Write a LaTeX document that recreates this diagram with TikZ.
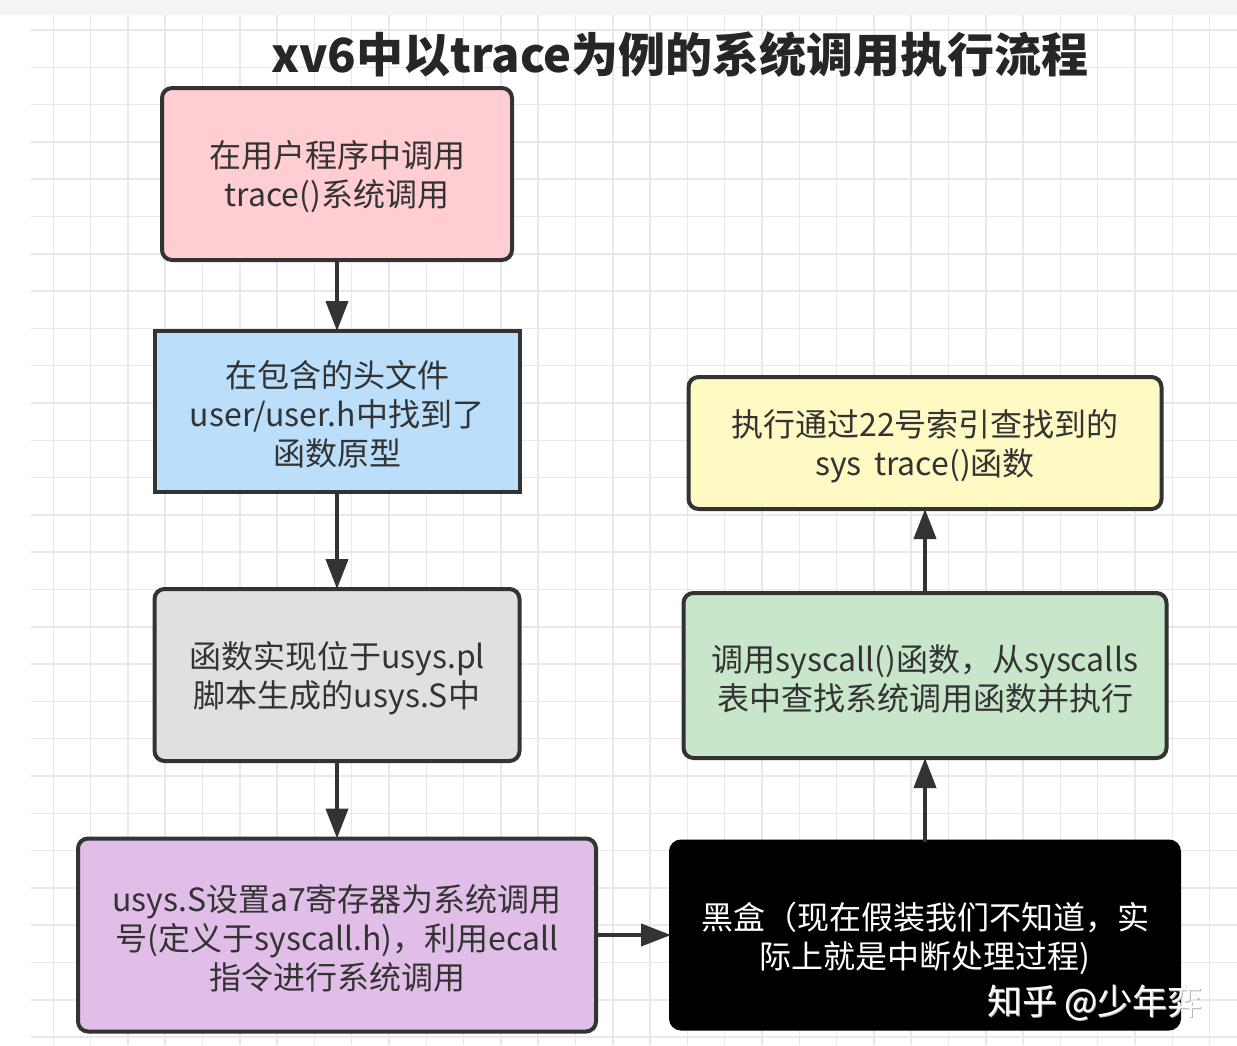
\documentclass[tikz,border=0pt]{standalone}
\usepackage{fontspec}
\setmainfont{Noto Sans CJK SC}
\usetikzlibrary{arrows.meta}
\definecolor{edge}{HTML}{333333}
\definecolor{txt}{HTML}{333333}
\definecolor{gridc}{HTML}{E8E8E8}
\definecolor{bandc}{HTML}{F4F4F4}
\definecolor{pinkf}{HTML}{FFCDD2}
\definecolor{bluef}{HTML}{BBDEFB}
\definecolor{grayf}{HTML}{E0E0E0}
\definecolor{purplef}{HTML}{E1BEE7}
\definecolor{greenf}{HTML}{C8E6C9}
\definecolor{yellowf}{HTML}{FFF9C4}
\begin{document}
\begin{tikzpicture}[x=1pt,y=-1pt,
  box/.style={draw=edge, line width=4pt, rounded corners=10pt, inner sep=0pt, outer sep=0pt},
  sharpbox/.style={box, sharp corners},
  boxtext/.style={align=center, text=txt, inner sep=0pt, yshift=-3pt, font=\fontsize{32}{39}\selectfont},
  flow/.style={draw=edge, line width=4pt, -{Triangle[length=30pt,width=22pt]}},
  gridline/.style={draw=gridc, line width=1.5pt}]
\useasboundingbox (0,0) rectangle (1237,1045);
\fill[white] (0,0) rectangle (1237,1045);
\fill[bandc] (0,0) rectangle (1237,15);
% grid
\foreach \i in {0,...,31} {
  \draw[gridline] ({53.3+\i*37.3},15) -- ({53.3+\i*37.3},1045);
}
\foreach \j in {0,...,27} {
  \draw[gridline] (31,{30+\j*37.3}) -- (1237,{30+\j*37.3});
}
% title
\node[font=\fontsize{47}{52}\selectfont\bfseries, text=black!85] (title) at (680,55) {xv6中以trace为例的系统调用执行流程};
% boxes
\node[box, fill=pinkf, minimum width=350pt, minimum height=172pt] (pink) at (337,174) {};
\node[boxtext] (pinkt) at (pink.center) {在用户程序中调用\\trace()系统调用};
\node[sharpbox, fill=bluef, minimum width=365pt, minimum height=161pt] (blue) at (337,411.5) {};
\node[boxtext] (bluet) at (blue.center) {在包含的头文件\\user/user.h中找到了\\函数原型};
\node[box, fill=grayf, minimum width=365pt, minimum height=172pt] (gray) at (337,675) {};
\node[boxtext] (grayt) at (gray.center) {函数实现位于usys.pl\\脚本生成的usys.S中};
\node[box, fill=purplef, minimum width=518pt, minimum height=193pt] (purple) at (337,935) {};
\node[boxtext] (purplet) at (purple.center) {usys.S设置a7寄存器为系统调用\\号(定义于syscall.h)，利用ecall\\指令进行系统调用};
\node[box, draw=black, fill=black, minimum width=508pt, minimum height=187pt] (black) at (925,935) {};
\node[boxtext, text=white] (blackt) at (black.center) {黑盒（现在假装我们不知道，实\\际上就是中断处理过程)};
\node[box, fill=greenf, minimum width=483pt, minimum height=165pt] (green) at (925,675.5) {};
\node[boxtext] (greent) at (green.center) {调用syscall()函数，从syscalls\\表中查找系统调用函数并执行};
\node[box, fill=yellowf, minimum width=473pt, minimum height=132pt] (yellow) at (925,443) {};
\node[boxtext] (yellowt) at (yellow.center) {执行通过22号索引查找到的\\sys\,\ trace()函数};
% watermark (faint shadow + white)
\node[text=black!30, font=\fontsize{35}{40}\selectfont] (wms) at (1096,1004) {知乎 @少年弈};
\node[text=white, font=\fontsize{35}{40}\selectfont] (wm) at (1095,1003) {知乎 @少年弈};
% connectors
\draw[flow] (pink.south) -- (blue.north);
\draw[flow] (blue.south) -- (gray.north);
\draw[flow] (gray.south) -- (purple.north);
\draw[flow] (purple.east) -- (black.west);
\draw[flow] (black.north) -- (green.south);
\draw[flow] (green.north) -- (yellow.south);
\end{tikzpicture}
\end{document}
